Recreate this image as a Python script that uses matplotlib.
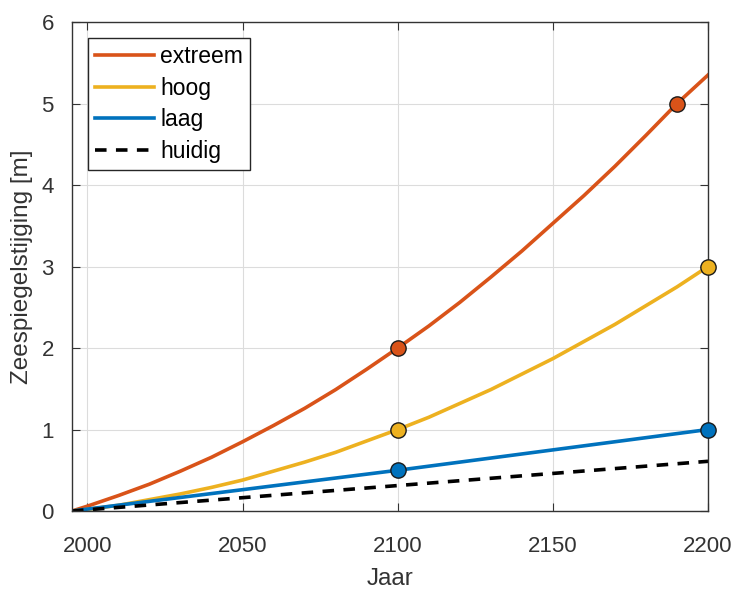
import matplotlib.pyplot as plt

years = [1995, 2000, 2010, 2020, 2030, 2040, 2050, 2060, 2070, 2080, 2090,
         2100, 2110, 2120, 2130, 2140, 2150, 2160, 2170, 2180, 2190, 2200]
extreem = [0.0, 0.06, 0.19, 0.33, 0.49, 0.66, 0.85, 1.05, 1.26, 1.49, 1.74,
           2.0, 2.27, 2.56, 2.87, 3.19, 3.53, 3.87, 4.23, 4.61, 5.0, 5.35]
hoog = [0.0, 0.02, 0.07, 0.14, 0.21, 0.29, 0.38, 0.49, 0.60, 0.72, 0.86,
        1.0, 1.15, 1.32, 1.49, 1.68, 1.87, 2.08, 2.29, 2.52, 2.75, 3.0]
laag_years = [1995, 2100, 2200]
laag = [0.0, 0.5, 1.0]
huidig_years = [1995, 2200]
huidig = [0.0, 0.61]

# punten met markers
extreem_pts = ([2100, 2190], [2.0, 5.0])
hoog_pts = ([2100, 2200], [1.0, 3.0])
laag_pts = ([2100, 2200], [0.5, 1.0])

c_ext = "#D95319"
c_hoog = "#EDB120"
c_laag = "#0072BD"
txt = "#333333"

plt.rcParams["font.family"] = ["Liberation Sans", "DejaVu Sans"]

fig = plt.figure(figsize=(7.36, 5.89), dpi=100)
ax = fig.add_axes([0.0978, 0.1324, 0.8642, 0.8302])

ax.plot(years, extreem, color=c_ext, lw=2.6, label="extreem")
ax.plot(years, hoog, color=c_hoog, lw=2.6, label="hoog")
ax.plot(laag_years, laag, color=c_laag, lw=2.6, label="laag")
ax.plot(huidig_years, huidig, color="black", lw=2.6, ls=(0, (3.2, 2.6)),
        label="huidig")

for (px, py), c in [(extreem_pts, c_ext), (hoog_pts, c_hoog), (laag_pts, c_laag)]:
    ax.plot(px, py, "o", ms=11, mfc=c, mec="#1a1a1a", mew=1.0, clip_on=False,
            zorder=5)

ax.set_xlim(1995, 2200)
ax.set_ylim(0, 6)
ax.set_xticks([2000, 2050, 2100, 2150, 2200])
ax.set_yticks(range(0, 7))
ax.grid(True, color="#dcdcdc", lw=0.8)
ax.set_axisbelow(True)
ax.tick_params(direction="in", length=6, top=True, right=True, colors=txt,
               labelsize=16)
ax.tick_params(axis="x", pad=18)
ax.tick_params(axis="y", pad=13)
for s in ax.spines.values():
    s.set_color(txt)
    s.set_linewidth(1.0)

ax.set_xlabel("Jaar", color=txt, fontsize=17.5, labelpad=8)
ax.set_ylabel("Zeespiegelstijging [m]", color=txt, fontsize=17.5, labelpad=6)

leg = ax.legend(loc="upper left", bbox_to_anchor=(0.025, 0.967), fancybox=False,
                edgecolor="#262626", framealpha=1, fontsize=16.5,
                handlelength=2.6, handletextpad=0.25, borderpad=0.3,
                labelspacing=0.38, borderaxespad=0)
leg.get_frame().set_linewidth(1.0)

fig.savefig("out.png", dpi=100)
